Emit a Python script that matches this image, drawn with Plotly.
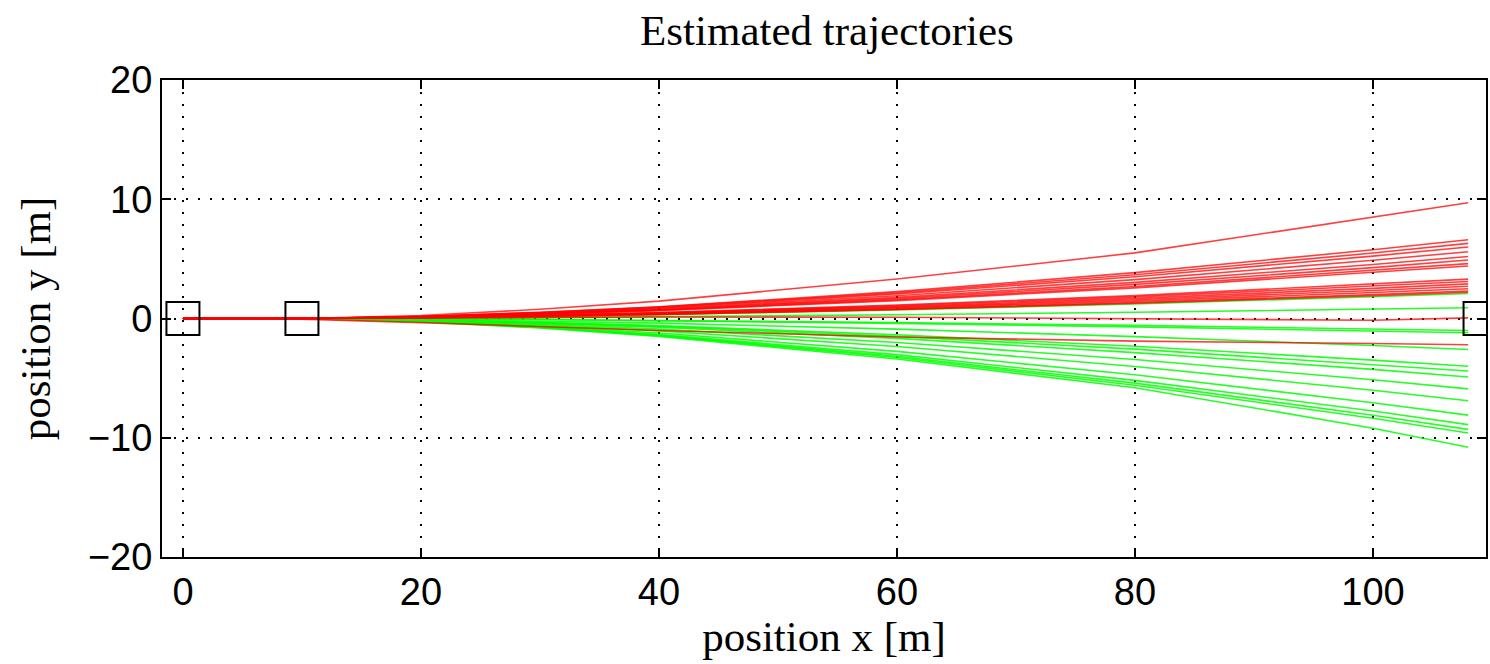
import plotly.graph_objects as go

# sample positions along x [m]
x_samples = [0, 10, 20, 30, 40, 60, 80, 100, 108]

# estimated y positions [m] of the red trajectories at x_samples
red_tracks = [
    [0, 0, 0.25, 0.77, 1.46, 3.31, 5.50, 8.46, 9.7],
    [0, 0, 0.17, 0.52, 0.99, 2.25, 3.85, 5.76, 6.6],
    [0, 0, 0.16, 0.50, 0.95, 2.15, 3.67, 5.49, 6.3],
    [0, 0, 0.16, 0.47, 0.90, 2.05, 3.50, 5.23, 6.0],
    [0, 0, 0.15, 0.44, 0.84, 1.91, 3.26, 4.88, 5.6],
    [0, 0, 0.14, 0.41, 0.78, 1.77, 3.03, 4.53, 5.2],
    [0, 0, 0.13, 0.39, 0.74, 1.67, 2.86, 4.27, 4.9],
    [0, 0, 0.12, 0.36, 0.69, 1.57, 2.68, 4.01, 4.6],
    [0, 0, 0.11, 0.35, 0.66, 1.50, 2.57, 3.84, 4.4],
    [0, 0, 0.09, 0.26, 0.50, 1.13, 1.92, 2.88, 3.3],
    [0, 0, 0.08, 0.24, 0.47, 1.06, 1.81, 2.70, 3.1],
    [0, 0, 0.08, 0.23, 0.44, 0.99, 1.69, 2.53, 2.9],
    [0, 0, 0.07, 0.21, 0.41, 0.92, 1.57, 2.35, 2.7],
    [0, 0, 0.07, 0.20, 0.38, 0.85, 1.46, 2.18, 2.5],
    [0, 0, 0.06, 0.18, 0.35, 0.78, 1.34, 2.01, 2.3],
    [0, 0, 0.06, 0.17, 0.33, 0.75, 1.28, 1.92, 2.2],
    [0, 0, 0.03, 0.08, 0.12, 0.10, -0.05, -0.15, 0.05],
    [0, -0.05, -0.35, -0.70, -1.00, -1.55, -1.90, -2.10, -2.2],
]

# estimated y positions [m] of the green trajectories at x_samples
green_tracks = [
    [0, 0, 0.05, 0.17, 0.32, 0.72, 1.22, 1.83, 2.1],
    [0, 0, 0.02, 0.07, 0.14, 0.31, 0.52, 0.78, 0.9],
    [0, 0, -0.03, -0.08, -0.15, -0.34, -0.58, -0.87, -1.0],
    [0, 0, -0.03, -0.09, -0.18, -0.41, -0.70, -1.05, -1.2],
    [0, 0, -0.07, -0.21, -0.39, -0.89, -1.52, -2.27, -2.6],
    [0, 0, -0.10, -0.32, -0.60, -1.36, -2.33, -3.49, -4.0],
    [0, 0, -0.11, -0.35, -0.66, -1.50, -2.57, -3.84, -4.4],
    [0, 0, -0.13, -0.39, -0.74, -1.67, -2.86, -4.27, -4.9],
    [0, 0, -0.15, -0.47, -0.89, -2.01, -3.44, -5.14, -5.9],
    [0, 0, -0.18, -0.55, -1.04, -2.35, -4.02, -6.02, -6.9],
    [0, 0, -0.21, -0.64, -1.22, -2.76, -4.72, -7.06, -8.1],
    [0, 0, -0.23, -0.70, -1.34, -3.03, -5.19, -7.76, -8.9],
    [0, 0, -0.24, -0.73, -1.40, -3.17, -5.42, -8.11, -9.3],
    [0, 0, -0.25, -0.76, -1.44, -3.27, -5.60, -8.37, -9.6],
    [0, 0, -0.28, -0.80, -1.50, -3.40, -5.80, -9.20, -10.8],
]

# landmark boxes
box_x = [0, 10, 109]
box_y = [0, 0, 0]

x_ticks = [0, 20, 40, 60, 80, 100]
y_ticks = [-20, -10, 0, 10, 20]

fig = go.Figure()

for tr in green_tracks:
    fig.add_trace(go.Scatter(x=x_samples, y=tr, mode="lines",
                             line=dict(color="#00ff00", width=1.6),
                             opacity=0.85, showlegend=False, hoverinfo="skip"))
for tr in red_tracks:
    fig.add_trace(go.Scatter(x=x_samples, y=tr, mode="lines",
                             line=dict(color="#ff0000", width=1.6),
                             opacity=0.75, showlegend=False, hoverinfo="skip"))

fig.add_trace(go.Scatter(x=box_x, y=box_y, mode="markers",
                         marker=dict(symbol="square-open", size=33, color="black",
                                     line=dict(width=2, color="black")),
                         cliponaxis=True, showlegend=False))

axis_common = dict(
    showline=True, linecolor="black", linewidth=2, mirror="ticks",
    ticks="inside", ticklen=9, tickwidth=1.5, tickcolor="black",
    showgrid=True, gridcolor="black", gridwidth=1.5, griddash="2px,10px",
    zeroline=False,
    tickfont=dict(family="Liberation Sans, Arial, sans-serif", size=38, color="black"),
    title_font=dict(family="Liberation Serif, Times New Roman, serif", size=43, color="black"),
)

fig.update_xaxes(range=[-1.76, 109.5], tickvals=x_ticks, title_text="position x [m]",
                 title_standoff=4, **axis_common)
fig.update_yaxes(range=[-20, 20], tickvals=y_ticks, title_text="position y [m]",
                 title_standoff=24, **axis_common)

fig.update_layout(
    width=1490, height=664,
    margin=dict(l=162, r=2, t=80, b=107),
    paper_bgcolor="white", plot_bgcolor="white",
    title=dict(text="Estimated trajectories", x=0.555, xanchor="center", y=0.955, yanchor="middle",
               font=dict(family="Liberation Serif, Times New Roman, serif", size=43, color="black")),
)

fig.write_html("out.html")
